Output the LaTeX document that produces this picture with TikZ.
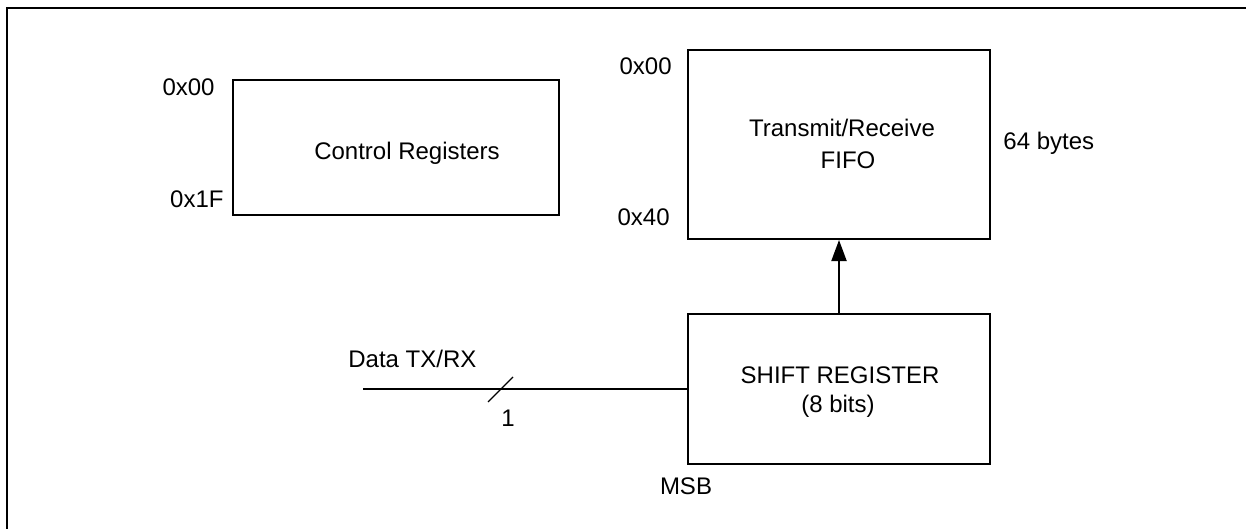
\documentclass[tikz,border=0pt]{standalone}
\usepackage{fontspec}
\setmainfont{Liberation Sans}
\usetikzlibrary{arrows.meta}
\begin{document}
\begin{tikzpicture}[x=0.5pt,y=-0.5pt,
  every node/.style={font=\fontsize{12}{14.4}\selectfont},
  blockbox/.style={draw, line width=1pt, inner sep=0pt},
  txt/.style={inner sep=0pt, anchor=base},
  txtr/.style={inner sep=0pt, anchor=base east},
  txtl/.style={inner sep=0pt, anchor=base west},
  wire/.style={line width=1pt},
  frame/.style={line width=1.25pt}]
\useasboundingbox (0,0) rectangle (1246,529);
% frame
\coordinate (fa) at (7,540);
\coordinate (fb) at (7,8);
\coordinate (fc) at (1260,8);
\draw[frame] (fa) -- (fb) -- (fc);
% boxes
\node[blockbox, minimum width=163pt, minimum height=67.5pt] (ctl) at (396,147.5) {};
\node[blockbox, minimum width=151pt, minimum height=94.5pt] (fifo) at (839,144.5) {};
\node[blockbox, minimum width=151pt, minimum height=75pt] (shift) at (839,389) {};
% texts
\node[txt] (ctlt) at (407,160) {Control Registers};
\node[txtr] (c00) at (215,96) {0x00};
\node[txtr] (c1f) at (224,208) {0x1F};
\node[txt] (fifot1) at (842,137) {Transmit/Receive};
\node[txt] (fifot2) at (848,169) {FIFO};
\node[txtr] (f00) at (672,75) {0x00};
\node[txtr] (f40) at (670,226) {0x40};
\node[txtl] (bytes) at (1003,150) {64 bytes};
\node[txt] (sh1) at (840,383) {SHIFT REGISTER};
\node[txt] (sh2) at (838,412) {(8 bits)};
\node[txtl] (data) at (348,367) {Data TX/RX};
\node[txt] (one) at (508,426) {1};
\node[txt] (msb) at (686,494) {MSB};
% connectors
\draw[wire, -{Triangle[width=7.5pt,length=10.5pt]}] (shift.north) -- (fifo.south);
\coordinate (din) at (363,389);
\draw[wire] (din) -- (shift.west |- din);
\coordinate (s1) at (488,402);
\coordinate (s2) at (513,377);
\draw[line width=0.6pt] (s1) -- (s2);
\end{tikzpicture}
\end{document}
